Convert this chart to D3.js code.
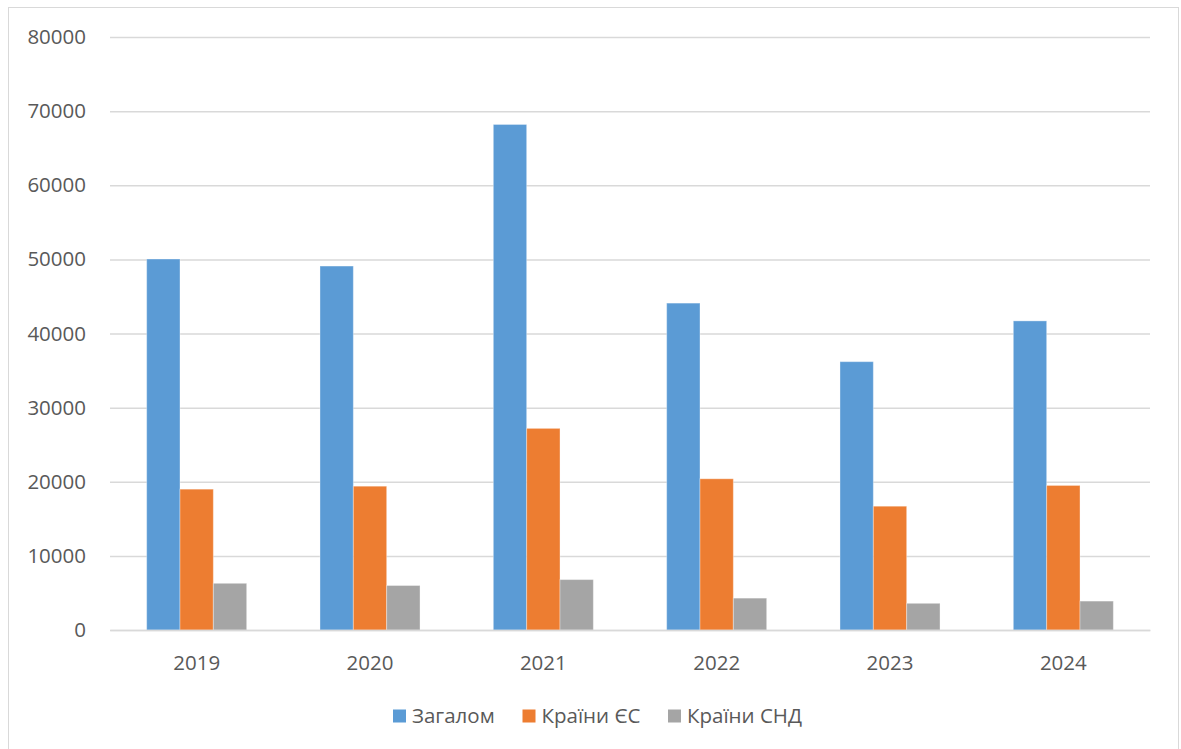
<!DOCTYPE html>
<html><head><meta charset="utf-8">
<script src="https://cdn.jsdelivr.net/npm/d3@7"></script>
<style>body{margin:0;background:#fff;}svg{display:block;font-family:"Open Sans",sans-serif;}</style>
</head><body><svg id="c" width="1181" height="749"></svg>
<script>
const years = ["2019","2020","2021","2022","2023","2024"];
const seriesNames = ["Загалом","Країни ЄС","Країни СНД"];
const total = [50050, 49100, 68200, 44100, 36200, 41700];
const eu = [19000, 19400, 27200, 20400, 16700, 19500];
const cis = [6300, 6000, 6800, 4300, 3600, 3900];
const yTicks = [0,10000,20000,30000,40000,50000,60000,70000,80000];
const colors = ["#5B9BD5","#ED7D31","#A5A5A5"];

const svg = d3.select("#c");
svg.append("rect").attr("x",8.5).attr("y",7.5).attr("width",1170).attr("height",745)
  .attr("fill","#fff").attr("stroke","#d9d9d9").attr("stroke-width",1);

const x0 = d3.scaleBand().domain(years).range([110,1150]).paddingInner(0.423).paddingOuter(0.2115);
const x1 = d3.scaleBand().domain(seriesNames).range([0,x0.bandwidth()]);
const y = d3.scaleLinear().domain([0,80000]).range([630,37]);

const gy = svg.append("g").attr("transform","translate(110,0)")
  .call(d3.axisLeft(y).tickValues(yTicks).tickSize(-1040).tickPadding(24).tickFormat(d3.format("d")));
gy.select(".domain").remove();
gy.selectAll(".tick line").attr("stroke","#d9d9d9").attr("stroke-width",1.5);
gy.selectAll(".tick text").attr("fill","#595959").style("font-size","20.5px").style("font-family","'Open Sans',sans-serif");

const data = years.map((yr,i)=>({year:yr, vals:[total[i],eu[i],cis[i]]}));
const g = svg.append("g");
data.forEach(d=>{
  d.vals.forEach((v,j)=>{
    g.append("rect")
      .attr("x", x0(d.year)+x1(seriesNames[j]))
      .attr("y", y(v))
      .attr("width", x1.bandwidth())
      .attr("height", y(0)-y(v))
      .attr("fill", colors[j])
      .attr("stroke","#ffffff").attr("stroke-opacity",0.35).attr("stroke-width",1);
  });
});

const gx = svg.append("g").attr("transform","translate(0,630)")
  .call(d3.axisBottom(x0).tickSize(0).tickPadding(25));
gx.select(".domain").attr("stroke","#d9d9d9").attr("stroke-width",1.5);
gx.selectAll(".tick text").attr("fill","#595959").style("font-size","20.5px").style("font-family","'Open Sans',sans-serif");

const legX = [393, 522.5, 668];
const leg = svg.append("g");
seriesNames.forEach((n,j)=>{
  leg.append("rect").attr("x",legX[j]).attr("y",709.5).attr("width",13).attr("height",13).attr("fill",colors[j]);
  leg.append("text").attr("x",legX[j]+19).attr("y",716).attr("dy","0.35em")
    .attr("fill","#595959").style("font-size","20.5px").text(n);
});
</script></body></html>
